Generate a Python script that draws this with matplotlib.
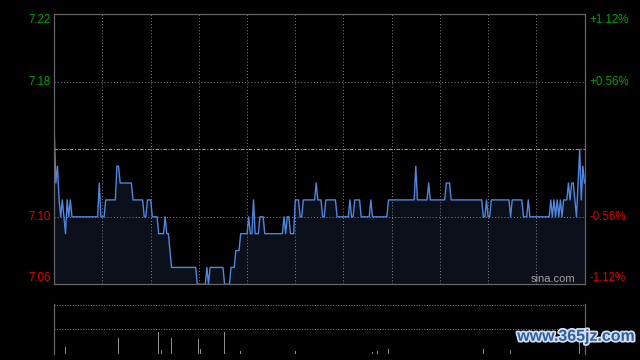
import numpy as np
import matplotlib
matplotlib.use('Agg')
import matplotlib.pyplot as plt
import matplotlib.patheffects as pe

plt.rcParams['font.family'] = ['Liberation Sans', 'DejaVu Sans']

# minute-by-minute price (331 points, 9:30-12:00 and 13:00-16:00)
prices = [
    7.15, 7.12, 7.13, 7.11, 7.10, 7.11, 7.10, 7.09, 7.11, 7.10,
    7.11, 7.10, 7.10, 7.10, 7.10, 7.10, 7.10, 7.10, 7.10, 7.10,
    7.10, 7.10, 7.10, 7.10, 7.10, 7.10, 7.10, 7.10, 7.12, 7.10,
    7.10, 7.10, 7.11, 7.11, 7.11, 7.11, 7.11, 7.11, 7.11, 7.13,
    7.13, 7.12, 7.12, 7.12, 7.12, 7.12, 7.12, 7.12, 7.12, 7.11,
    7.11, 7.11, 7.11, 7.11, 7.11, 7.11, 7.10, 7.10, 7.11, 7.11,
    7.11, 7.10, 7.10, 7.10, 7.10, 7.09, 7.09, 7.09, 7.09, 7.10,
    7.09, 7.09, 7.08, 7.07, 7.07, 7.07, 7.07, 7.07, 7.07, 7.07,
    7.07, 7.07, 7.07, 7.07, 7.07, 7.07, 7.07, 7.07, 7.07, 7.06,
    7.06, 7.06, 7.06, 7.06, 7.06, 7.07, 7.06, 7.07, 7.07, 7.07,
    7.07, 7.07, 7.07, 7.07, 7.07, 7.07, 7.06, 7.06, 7.06, 7.06,
    7.07, 7.07, 7.07, 7.08, 7.08, 7.08, 7.09, 7.09, 7.09, 7.09,
    7.09, 7.10, 7.09, 7.09, 7.11, 7.09, 7.09, 7.09, 7.10, 7.10,
    7.10, 7.09, 7.09, 7.09, 7.09, 7.09, 7.09, 7.09, 7.09, 7.09,
    7.09, 7.09, 7.09, 7.10, 7.09, 7.10, 7.10, 7.09, 7.09, 7.09,
    7.11, 7.11, 7.11, 7.10, 7.10, 7.11, 7.11, 7.11, 7.11, 7.11,
    7.11, 7.11, 7.11, 7.12, 7.11, 7.11, 7.11, 7.10, 7.10, 7.11,
    7.11, 7.11, 7.11, 7.11, 7.11, 7.11, 7.10, 7.10, 7.10, 7.10,
    7.10, 7.10, 7.10, 7.10, 7.11, 7.10, 7.10, 7.11, 7.11, 7.11,
    7.11, 7.10, 7.10, 7.10, 7.10, 7.10, 7.10, 7.11, 7.10, 7.10,
    7.10, 7.10, 7.10, 7.10, 7.10, 7.10, 7.10, 7.10, 7.11, 7.11,
    7.11, 7.11, 7.11, 7.11, 7.11, 7.11, 7.11, 7.11, 7.11, 7.11,
    7.11, 7.11, 7.11, 7.11, 7.11, 7.13, 7.11, 7.11, 7.11, 7.11,
    7.11, 7.11, 7.11, 7.12, 7.11, 7.11, 7.11, 7.11, 7.11, 7.11,
    7.11, 7.11, 7.11, 7.11, 7.12, 7.12, 7.12, 7.11, 7.11, 7.11,
    7.11, 7.11, 7.11, 7.11, 7.11, 7.11, 7.11, 7.11, 7.11, 7.11,
    7.11, 7.11, 7.11, 7.11, 7.11, 7.11, 7.11, 7.10, 7.10, 7.11,
    7.10, 7.10, 7.11, 7.11, 7.11, 7.11, 7.11, 7.11, 7.11, 7.11,
    7.11, 7.11, 7.11, 7.11, 7.10, 7.11, 7.11, 7.11, 7.11, 7.11,
    7.11, 7.11, 7.10, 7.10, 7.10, 7.11, 7.10, 7.10, 7.10, 7.10,
    7.10, 7.10, 7.10, 7.10, 7.10, 7.10, 7.10, 7.10, 7.10, 7.11,
    7.10, 7.11, 7.10, 7.11, 7.10, 7.11, 7.10, 7.11, 7.11, 7.11,
    7.12, 7.11, 7.12, 7.12, 7.11, 7.10, 7.12, 7.14, 7.11, 7.13,
    7.12,
]

prev_close = 7.14
price_ticks = [7.06, 7.10, 7.14, 7.18, 7.22]
left_labels = ['7.06', '7.10', '', '7.18', '7.22']
right_labels = ['-1.12%', '-0.56%', '', '+0.56%', '+1.12%']

# notable volume bars (minute index, volume)
vol_minutes = [0, 7, 40, 65, 67, 73, 90, 91, 106, 116, 150, 198, 201, 208, 267, 284, 327]
vol_values = [2, 7, 16, 22, 4, 16, 15, 5, 22, 3, 3, 2, 3, 5, 5, 4, 21]

bg = 'black'
grid_c = '#7a7a7a'
green = '#00a000'
red = '#dd0000'

fig = plt.figure(figsize=(6.4, 3.6), dpi=100, facecolor=bg)
ax = fig.add_axes([0.0848, 0.2103, 0.8285, 0.75], facecolor=bg)
x = np.arange(len(prices))

ax.fill_between(x, prices, 7.06, color='#0a0f19', lw=0)
ax.plot(x, prices, color='#4f86df', lw=1.0)
ax.axhline(prev_close, color='#9a9a9a', lw=0.8, ls=(0, (3, 1.5, 1, 1.5)))
for p in [7.10, 7.18]:
    ax.axhline(p, color=grid_c, lw=0.75, ls=(0, (1, 2)))
for m in range(30, 330, 30):
    ax.axvline(m, color=grid_c, lw=0.75, ls=(0, (1, 2)))

ax.set_xlim(0, 330)
ax.set_ylim(7.06, 7.22)
ax.set_xticks([])
ax.set_yticks([])
for s in ax.spines.values():
    s.set_color('#666666')
    s.set_linewidth(0.9)

for p, ll, rl in zip(price_ticks, left_labels, right_labels):
    if not ll:
        continue
    c = green if p > prev_close else red
    va = 'center'
    if p == 7.22:
        va = 'top'
    elif p == 7.06:
        va = 'bottom'
    ax.text(-0.006, p, ll, transform=ax.get_yaxis_transform(), ha='right',
            va=va, color=c, fontsize=8.3)
    ax.text(1.01, p, rl, transform=ax.get_yaxis_transform(), ha='left',
            va=va, color=c, fontsize=8.3)

ax.text(0.982, 0.0, 'sina.com', transform=ax.transAxes, ha='right',
        va='bottom', color='#a0a0a0', fontsize=8)

# volume pane
vax = fig.add_axes([0.0848, 0.0153, 0.8285, 0.1389], facecolor=bg)
vax.bar(vol_minutes, vol_values, width=0.6, color='#8c8c8c')
vax.set_xlim(0, 330)
vax.set_ylim(0, 50)
for yv in [0.3, 25, 49.6]:
    vax.axhline(yv, color=grid_c, lw=0.75, ls=(0, (1, 1.5)))
vax.set_xticks([])
vax.set_yticks([])
for k in ['top', 'bottom']:
    vax.spines[k].set_visible(False)
for k in ['left', 'right']:
    vax.spines[k].set_color('#666666')
    vax.spines[k].set_linewidth(0.9)

fig.text(0.993, 0.045, 'www.365jz.com', ha='right', va='bottom', color='#2b5ea8',
         fontsize=11.5, fontweight='bold',
         path_effects=[pe.withStroke(linewidth=2.5, foreground='#d8e0ee')])

fig.savefig('out.png', dpi=100, facecolor=bg)
